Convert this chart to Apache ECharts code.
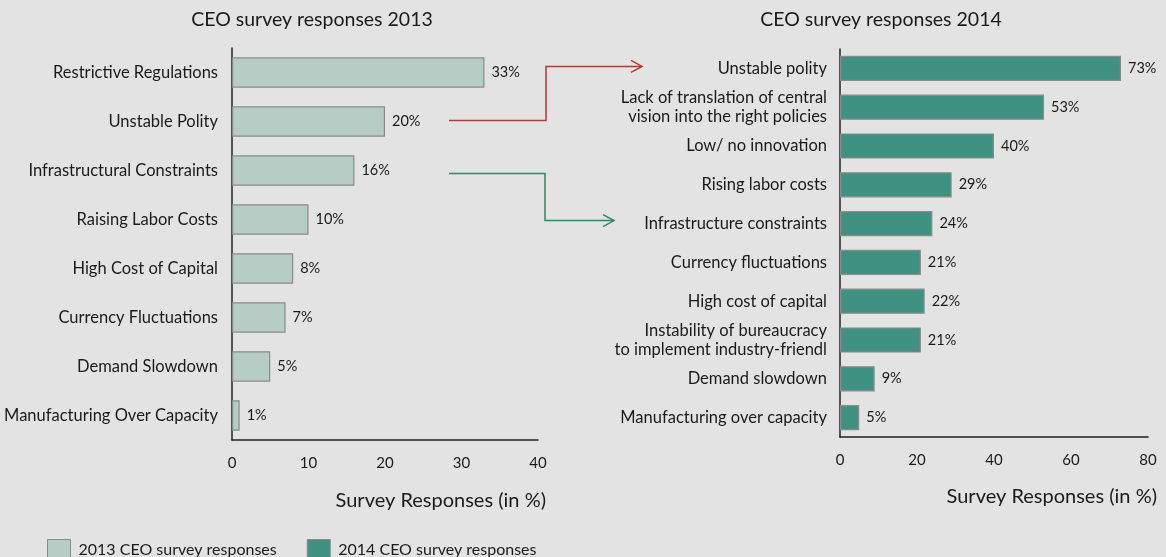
<!DOCTYPE html>
<html>
<head>
<meta charset="utf-8">
<script src="https://cdn.jsdelivr.net/npm/echarts@6/dist/echarts.min.js"></script>
<style>
  html, body { margin: 0; padding: 0; background: #e3e3e3; }
  #chart { width: 1166px; height: 557px; }
</style>
</head>
<body>
<div id="chart"></div>
<script>
// 2013 survey: top concerns of CEOs (percent of responses)
const categories2013 = [
  'Restrictive Regulations', 'Unstable Polity', 'Infrastructural Constraints',
  'Raising Labor Costs', 'High Cost of Capital', 'Currency Fluctuations',
  'Demand Slowdown', 'Manufacturing Over Capacity'
];
const values2013 = [33, 20, 16, 10, 8, 7, 5, 1];

// 2014 survey
const categories2014 = [
  'Unstable polity', 'Lack of translation of central\nvision into the right policies',
  'Low/ no innovation', 'Rising labor costs', 'Infrastructure constraints',
  'Currency fluctuations', 'High cost of capital',
  'Instability of bureaucracy\nto implement industry-friendl',
  'Demand slowdown', 'Manufacturing over capacity'
];
const values2014 = [73, 53, 40, 29, 24, 21, 22, 21, 9, 5];

const ticks2013 = [0, 10, 20, 30, 40];
const ticks2014 = [0, 20, 40, 60, 80];

const seriesNames = ['2013 CEO survey responses', '2014 CEO survey responses'];
const axisTitle = 'Survey Responses (in %)';
const chartTitles = ['CEO survey responses 2013', 'CEO survey responses 2014'];

const FONT = 'Lato';
const TEXT = '#1a1a1a';
const C2013 = '#b5cdc4';
const C2014 = '#3f9282';
const EDGE = '#8a8a8a';

const chart = echarts.init(document.getElementById('chart'), null, { renderer: 'canvas' });

function valueAxis(gridIndex, ticks, nameGap, namePad) {
  return {
    type: 'value',
    gridIndex: gridIndex,
    min: ticks[0],
    max: ticks[ticks.length - 1],
    interval: ticks[1] - ticks[0],
    splitLine: { show: false },
    axisTick: { show: false },
    axisLine: { show: true, lineStyle: { color: '#222', width: 1.5 } },
    axisLabel: { color: TEXT, fontFamily: FONT, fontSize: 15, margin: 16 },
    name: axisTitle,
    nameLocation: 'end',
    nameGap: nameGap,
    nameTextStyle: {
      color: TEXT, fontFamily: FONT, fontSize: 20,
      align: 'right', verticalAlign: 'top', padding: [namePad, 0, 0, 0]
    }
  };
}

function categoryAxis(gridIndex, cats, margin) {
  return {
    type: 'category',
    gridIndex: gridIndex,
    data: cats,
    inverse: true,
    axisTick: { show: false },
    axisLine: { show: true, lineStyle: { color: '#222', width: 1.5 } },
    axisLabel: { color: TEXT, fontFamily: FONT, fontSize: 16.5, margin: margin, lineHeight: 19 }
  };
}

function barSeries(name, idx, vals, color, gap) {
  return {
    name: name,
    type: 'bar',
    xAxisIndex: idx,
    yAxisIndex: idx,
    data: vals,
    barCategoryGap: gap,
    itemStyle: { color: color, borderColor: EDGE, borderWidth: 1.2 },
    label: {
      show: true, position: 'right', distance: 7,
      formatter: '{c}%', color: TEXT, fontFamily: FONT, fontSize: 14.5
    }
  };
}

const titleStyle = { color: TEXT, fontFamily: FONT, fontSize: 19.5, fontWeight: 'normal' };

chart.setOption({
  backgroundColor: '#e3e3e3',
  animation: false,
  title: [
    { text: chartTitles[0], left: 307, top: 5, textAlign: 'center', textStyle: titleStyle },
    { text: chartTitles[1], left: 876, top: 5, textAlign: 'center', textStyle: titleStyle }
  ],
  legend: {
    data: seriesNames,
    left: 42, top: 534,
    icon: 'rect',
    itemWidth: 23, itemHeight: 20, itemGap: 30,
    textStyle: { color: TEXT, fontFamily: FONT, fontSize: 16, padding: [0, 0, 0, 3] },
    itemStyle: { borderColor: EDGE, borderWidth: 1 }
  },
  grid: [
    { left: 232, right: 628, top: 48, bottom: 117 },
    { left: 840, right: 18, top: 49, bottom: 120 }
  ],
  xAxis: [valueAxis(0, ticks2013, 8, 51), valueAxis(1, ticks2014, 9, 50)],
  yAxis: [categoryAxis(0, categories2013, 14), categoryAxis(1, categories2014, 13)],
  series: [
    barSeries(seriesNames[0], 0, values2013, C2013, '38%'),
    barSeries(seriesNames[1], 1, values2014, C2014, '35%')
  ]
});

// Connector arrows linking the same concern across the two years
function yOf(axisIndex, cat) {
  return chart.convertToPixel({ yAxisIndex: axisIndex }, cat);
}
function connector(fromY, toY, turnX, endX, color) {
  const startX = 449;
  return [
    { type: 'polyline', silent: true,
      shape: { points: [[startX, fromY], [turnX, fromY], [turnX, toY], [endX, toY]] },
      style: { stroke: color, lineWidth: 1.5, fill: null } },
    { type: 'polyline', silent: true,
      shape: { points: [[endX - 11, toY - 6], [endX, toY], [endX - 11, toY + 6]] },
      style: { stroke: color, lineWidth: 1.5, fill: null } }
  ];
}
const redFrom = yOf(0, 'Unstable Polity') - 1;
const redTo = yOf(1, 'Unstable polity') - 2;
const greenFrom = yOf(0, 'Infrastructural Constraints') + 3;
const greenTo = yOf(1, 'Infrastructure constraints') - 3;
chart.setOption({
  graphic: [].concat(
    connector(redFrom, redTo, 546, 642, '#b23a2e'),
    connector(greenFrom, greenTo, 545, 614, '#2a8a66')
  )
});
</script>
</body>
</html>
